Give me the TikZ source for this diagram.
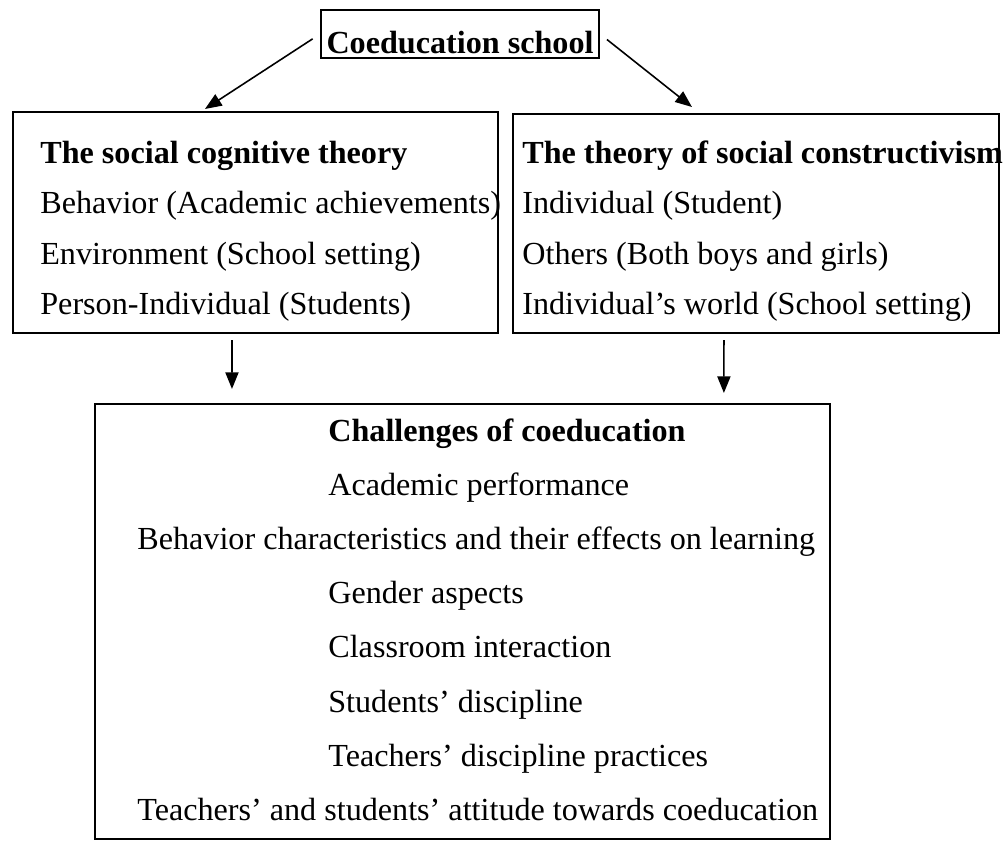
\documentclass[tikz,border=0pt]{standalone}
\usepackage{fontspec}
\setmainfont{Liberation Serif}
\usetikzlibrary{arrows.meta,positioning}

\tikzset{
    framebox/.style={draw,line width=1.2pt,rectangle,inner sep=0pt,anchor=north west},
    headbox/.style={framebox,font=\bfseries\fontsize{18.3}{22}\selectfont,text height=0.86cm,text depth=0.1cm,minimum width=5.56cm},
    itemtext/.style={inner sep=0pt,anchor=base west,font=\fontsize{18.3}{22}\selectfont},
    titletext/.style={itemtext,font=\bfseries\fontsize{18.3}{22}\selectfont},
    link/.style={->,line width=0.9pt}
}

\begin{document}
\begin{tikzpicture}[x=0.02cm,y=-0.02cm,>={Stealth[length=9.5pt,width=7.5pt,inset=0pt]}]
\useasboundingbox (0,0) rectangle (1006,844);

% top
\node[headbox] (school) at (320,9) {Coeducation school};

% the two theories
\node[framebox,minimum width=9.7cm,minimum height=4.42cm] (cogbox) at (12,111) {};
\node[framebox,minimum width=9.72cm,minimum height=4.38cm] (conbox) at (512,113) {};

\node[titletext] (cogtitle) at (40,164) {The social cognitive theory};
\node[itemtext]  (cogA) at (40,214) {Behavior (Academic achievements)};
\node[itemtext]  (cogB) at (40,264) {Environment (School setting)};
\node[itemtext]  (cogC) at (40,314) {Person-Individual (Students)};

\node[titletext] (contitle) at (522,164) {The theory of social constructivism};
\node[itemtext]  (conA) at (522,214) {Individual (Student)};
\node[itemtext]  (conB) at (522,264) {Others (Both boys and girls)};
\node[itemtext]  (conC) at (522,314) {Individual’s world (School setting)};

% challenges
\node[framebox,minimum width=14.7cm,minimum height=8.7cm] (chalbox) at (94,403) {};

\node[titletext] (chaltitle) at (328,441) {Challenges of coeducation};
\node[itemtext]  (chalA) at (328,495) {Academic performance};
\node[itemtext]  (chalB) at (137,549) {Behavior characteristics and their effects on learning};
\node[itemtext]  (chalC) at (328,603) {Gender aspects};
\node[itemtext]  (chalD) at (328,657) {Classroom interaction};
\node[itemtext]  (chalE) at (328,712) {Students’ discipline};
\node[itemtext]  (chalF) at (328,766) {Teachers’ discipline practices};
\node[itemtext]  (chalG) at (137,820) {Teachers’ and students’ attitude towards coeducation};

\draw[link,shorten <=5pt] (school.west) -- ([xshift=3.86cm,yshift=0.04cm]cogbox.north west);
\draw[link,shorten <=5pt] (school.east) -- ([xshift=3.6cm,yshift=0.12cm]conbox.north west);
\draw[link,shorten <=3.4pt,shorten >=8pt] ([xshift=4.4cm]cogbox.south west) -- ([xshift=2.76cm]chalbox.north west);
\draw[link,shorten <=3.4pt,shorten >=5.7pt] ([xshift=4.24cm]conbox.south west) -- ([xshift=12.6cm]chalbox.north west);
\end{tikzpicture}
\end{document}
